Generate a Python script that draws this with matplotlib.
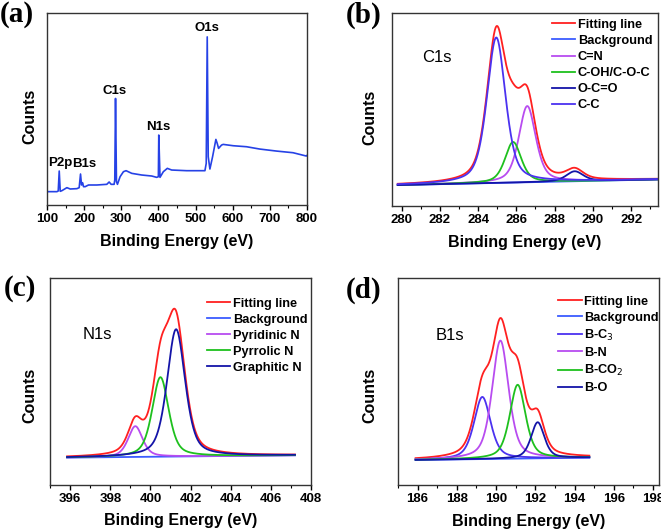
import numpy as np
import matplotlib.pyplot as plt
from matplotlib.ticker import MultipleLocator

plt.rcParams['font.family'] = ['Liberation Sans', 'DejaVu Sans']

# (a) survey spectrum
survey_ev = [100, 126.9, 130.4, 133.1, 135.8, 140.3, 153.7, 162.7, 180.6, 186.8,
             190.4, 193.1, 195.8, 198.5, 202.9, 211.9, 234.3, 261.1, 267.4, 272.8,
             280.8, 282.6, 284.6, 287.1, 289.8, 296.9, 305.9, 313.0, 328.3, 355.1,
             382.0, 395.4, 399.9, 401.0, 404.3, 413.3, 424.0, 435.7, 476.0, 511.7,
             525.2, 528.7, 531.4, 534.1, 538.6, 545.8, 554.7, 558.3, 561.9, 569.9,
             574.4, 601.3, 637.1, 672.9, 717.6, 762.4, 798.2, 800]
survey_cts = [40, 40, 42, 102, 41, 43, 52, 48, 49, 52,
              93, 60, 67, 55, 55, 60, 60, 62, 69, 62,
              62, 75, 320, 70, 62, 85, 100, 103, 95, 90,
              87, 83, 85, 210, 83, 100, 110, 105, 103, 103,
              103, 125, 505, 145, 108, 145, 197, 185, 170, 180,
              182, 178, 175, 168, 162, 157, 147, 149]
survey_tags = ['P2p', 'B1s', 'C1s', 'N1s', 'O1s']
survey_tag_x = [135.8, 201, 281.7, 400.8, 531.4]
survey_tag_y = [125, 123, 343, 235, 533]

# (b) C1s fit: peak centre, height above background, FWHM
c1s_names = ['C=N', 'C-OH/C-O-C', 'O-C=O', 'C-C']
c1s_center = [286.57, 285.83, 289.05, 284.95]
c1s_height = [229, 122, 30, 437]
c1s_fwhm = [1.05, 1.0, 1.05, 1.15]
c1s_bg_x = [279.8, 293.5]
c1s_bg_y = [63, 80]

# (c) N1s fit
n1s_names = ['Pyridinic N', 'Pyrrolic N', 'Graphitic N']
n1s_center = [399.25, 400.5, 401.28]
n1s_height = [92, 238, 381]
n1s_fwhm = [0.85, 0.97, 1.07]
n1s_bg_x = [395.85, 407.2]
n1s_bg_y = [82, 89]

# (d) B1s fit
b1s_names = ['B-C$_3$', 'B-N', 'B-CO$_2$', 'B-O']
b1s_center = [189.3, 190.22, 191.1, 192.12]
b1s_height = [186, 354, 221, 108]
b1s_fwhm = [1.0, 1.0, 0.95, 0.8]
b1s_bg_x = [185.9, 194.75]
b1s_bg_y = [75, 82]

RED = '#ff2020'
BG = '#3c5cff'
VIOLET = '#b84cf0'
GREEN = '#1ec01e'
DKBLUE = '#1414a8'
BLUEV = '#4b32f0'


def pv(x, c, h, w, eta=0.5):
    g = np.exp(-4 * np.log(2) * ((x - c) / w) ** 2)
    l = 1 / (1 + 4 * ((x - c) / w) ** 2)
    return h * (eta * l + (1 - eta) * g)


def style(ax, xlim, ylim, major, minor, ylab_x, ylab_y, xlab_y):
    ax.set_xlim(xlim)
    ax.set_ylim(ylim)
    ax.xaxis.set_major_locator(MultipleLocator(major))
    ax.xaxis.set_minor_locator(MultipleLocator(minor))
    ax.set_yticks([])
    ax.tick_params(axis='x', which='major', length=3.5, width=1, pad=2, labelsize=9.5)
    ax.tick_params(axis='x', which='minor', length=2, width=0.8)
    for lab in ax.get_xticklabels():
        lab.set_fontweight('bold')
    for s in ax.spines.values():
        s.set_color('#333333')
        s.set_linewidth(1)
    ax.set_ylabel('Counts', fontsize=11.5, fontweight='bold')
    ax.yaxis.set_label_coords(ylab_x, ylab_y)
    ax.set_xlabel('Binding Energy (eV)', fontsize=11.5, fontweight='bold')
    ax.xaxis.set_label_coords(0.5, xlab_y)


def fit_panel(ax, names, centers, heights, fwhms, colors, bg_x, bg_y, x_end):
    x = np.linspace(bg_x[0], x_end, 800)
    base = np.interp(x, bg_x, bg_y)
    total = base.copy()
    comps = []
    for c, h, w in zip(centers, heights, fwhms):
        y = pv(x, c, h, w)
        total += y
        comps.append(y)
    ax.plot(x, total, color=RED, lw=1.3, label='Fitting line')
    ax.plot(bg_x, bg_y, color=BG, lw=1.3, label='Background')
    for y, name, col in zip(comps, names, colors):
        ax.plot(x, base + y, color=col, lw=1.3, label=name)


def legend(ax, anchor):
    ax.legend(loc='upper left', bbox_to_anchor=anchor, frameon=False,
              prop={'weight': 'bold', 'size': 9.2}, handlelength=1.85,
              handletextpad=0.2, labelspacing=0.32, borderpad=0, borderaxespad=0)


fig = plt.figure(figsize=(6.61, 5.31), dpi=100)

# (a)
ax = fig.add_axes([0.071, 0.614, 0.3935, 0.3616])
ax.plot(survey_ev, survey_cts, color='#2642e6', lw=1.2)
for t, tx, ty in zip(survey_tags, survey_tag_x, survey_tag_y):
    ax.text(tx, ty, t, ha='center', va='center', fontsize=9.5, fontweight='bold')
style(ax, (100, 800), (0, 577), 100, 50, -0.038, 0.46, -0.15)

# (b)
ax = fig.add_axes([0.593, 0.612, 0.4024, 0.3635])
fit_panel(ax, c1s_names, c1s_center, c1s_height, c1s_fwhm,
          [VIOLET, GREEN, DKBLUE, BLUEV], c1s_bg_x, c1s_bg_y, 293.5)
ax.text(0.17, 0.77, 'C1s', transform=ax.transAxes, fontsize=12, ha='center', va='center')
legend(ax, (0.6, 0.97))
style(ax, (279.5, 293.4), (0, 580), 2, 1, -0.056, 0.46, -0.15)

# (c)
ax = fig.add_axes([0.0756, 0.0866, 0.395, 0.39])
fit_panel(ax, n1s_names, n1s_center, n1s_height, n1s_fwhm,
          [VIOLET, GREEN, DKBLUE], n1s_bg_x, n1s_bg_y, 407.2)
ax.text(0.18, 0.729, 'N1s', transform=ax.transAxes, fontsize=12, ha='center', va='center')
legend(ax, (0.6, 0.905))
style(ax, (395, 408), (0, 620), 2, 1, -0.05, 0.435, -0.135)

# (d)
ax = fig.add_axes([0.602, 0.0866, 0.395, 0.39])
fit_panel(ax, b1s_names, b1s_center, b1s_height, b1s_fwhm,
          [BLUEV, VIOLET, GREEN, DKBLUE], b1s_bg_x, b1s_bg_y, 194.75)
ax.text(0.2, 0.72, 'B1s', transform=ax.transAxes, fontsize=12, ha='center', va='center')
legend(ax, (0.613, 0.915))
style(ax, (185, 198.3), (0, 620), 2, 1, -0.077, 0.435, -0.14)

# panel letters
for lt, px, py in [('(a)', 17, 15), ('(b)', 364, 15), ('(c)', 20, 288), ('(d)', 364, 290)]:
    fig.text(px / 661, 1 - py / 531, lt, ha='center', va='center', fontsize=21,
             fontweight='bold', family=['Liberation Serif', 'DejaVu Serif'])

fig.savefig('out.png', dpi=100)
